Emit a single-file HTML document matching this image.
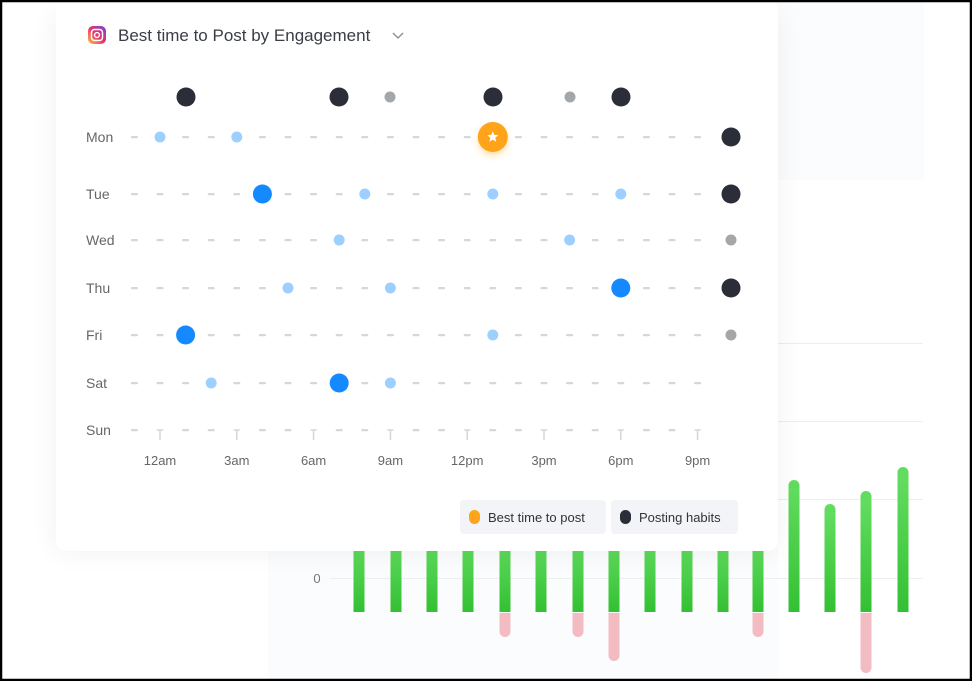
<!DOCTYPE html>
<html><head><meta charset="utf-8"><style>
html,body{margin:0;padding:0;background:#fff;}
body{width:972px;height:681px;overflow:hidden;position:relative;font-family:"Liberation Sans",sans-serif;}
</style></head><body>
<svg id="s" width="972" height="681" viewBox="0 0 972 681" xmlns="http://www.w3.org/2000/svg" style="position:absolute;left:0;top:0">
<defs>
<linearGradient id="g" x1="0" y1="0" x2="0" y2="1"><stop offset="0" stop-color="#63dd60"/><stop offset="1" stop-color="#33c033"/></linearGradient>
<linearGradient id="ig" x1="0" y1="1" x2="1" y2="0"><stop offset="0" stop-color="#fcc143"/><stop offset=".5" stop-color="#e8326b"/><stop offset="1" stop-color="#6b4bd8"/></linearGradient>
<filter id="sh" x="-10%" y="-10%" width="120%" height="130%"><feGaussianBlur stdDeviation="14"/></filter>
<filter id="gl" x="-100%" y="-100%" width="300%" height="300%"><feGaussianBlur stdDeviation="4"/></filter>
</defs>
<rect x="268" y="0" width="510" height="681" fill="#fbfcfd"/>
<rect x="778" y="0" width="146" height="180" fill="#fbfcfd"/>
<g stroke="#eceff2" stroke-width="1">
<line x1="778" y1="343.5" x2="923" y2="343.5"/>
<line x1="778" y1="421.5" x2="923" y2="421.5"/>
<line x1="778" y1="499.5" x2="923" y2="499.5"/>
<line x1="330" y1="578.5" x2="923" y2="578.5"/>
</g>
<text x="317" y="583" font-size="13" fill="#777" text-anchor="middle">0</text>
<g id="bars"></g>
<rect x="56" y="10" width="722" height="541" rx="10" fill="#000" opacity="0.06" filter="url(#sh)"/>
<rect x="56" y="0" width="722" height="551" rx="10" fill="#fff"/>
<rect x="88" y="26" width="18" height="18" rx="5" fill="url(#ig)"/>
<rect x="91.5" y="29.5" width="11" height="11" rx="3" fill="none" stroke="#fff" stroke-width="1.5"/>
<circle cx="97" cy="35" r="2.4" fill="none" stroke="#fff" stroke-width="1.4"/>
<text x="118" y="41" font-size="17" fill="#3a3d45">Best time to Post by Engagement</text>
<path d="M393 33 l5 5 l5 -5" fill="none" stroke="#888" stroke-width="1.3"/>
<g id="grid"></g>
<rect x="460" y="500" width="146" height="34" rx="4" fill="#f2f4f7"/>
<rect x="611" y="500" width="127" height="34" rx="4" fill="#f2f4f7"/>
<rect x="469" y="510" width="11" height="14" rx="5.5" fill="#ffa31a"/>
<text x="488" y="522" font-size="13" fill="#333">Best time to post</text>
<rect x="620" y="510" width="11" height="14" rx="5.5" fill="#2b2e38"/>
<text x="639" y="522" font-size="13" fill="#333">Posting habits</text>
<rect x="1" y="1" width="970" height="679" fill="none" stroke="#000" stroke-width="2.5"/>
</svg>
<script>
const NS="http://www.w3.org/2000/svg";
function el(p,t,a,txt){const e=document.createElementNS(NS,t);for(const k in a)e.setAttribute(k,a[k]);if(txt!==undefined)e.textContent=txt;p.appendChild(e);return e;}
const bars=document.getElementById('bars');
const bx=[359,396,432,468,505,541,578,614,650,687,723,758,794,830,866,903];
const tops={794:480,830:504,866:491,903:467};
const neg={505:637,578:637,614:661,758:637,866:673};
bx.forEach(x=>{
 const t=tops[x]||540;
 el(bars,'rect',{x:x-5.5,y:t,width:11,height:612-t+(tops[x]?0:0),rx:tops[x]?5.5:0,fill:'url(#g)'});
 if(tops[x]) el(bars,'rect',{x:x-5.5,y:t+8,width:11,height:612-t-8,fill:'url(#g)'});
 if(neg[x]){el(bars,'rect',{x:x-5.5,y:613,width:11,height:neg[x]-613,rx:5.5,fill:'#f3bcc3'});el(bars,'rect',{x:x-5.5,y:613,width:11,height:6,fill:'#f3bcc3'});}
});
const g=document.getElementById('grid');
const X=h=>160+25.6*h;
const rows=[['Mon',137],['Tue',194],['Wed',240],['Thu',288],['Fri',335],['Sat',383],['Sun',430]];
const pts={
Mon:{0:'s',3:'s',13:'star'},
Tue:{4:'B',8:'s',13:'s',18:'s'},
Wed:{7:'s',16:'s'},
Thu:{5:'s',9:'s',18:'B'},
Fri:{1:'B',13:'s'},
Sat:{2:'s',7:'B',9:'s'},
Sun:{}
};
const extra={Mon:'D',Tue:'D',Wed:'G',Thu:'D',Fri:'G'};
rows.forEach(([d,y])=>{
 el(g,'text',{x:86,y:y+5,'font-size':14,fill:'#666'},d);
 for(let h=-1;h<=21;h++){
  const x=X(h),p=pts[d][h];
  if(d==='Sun'&&h>=0&&h%3===0){el(g,'path',{d:`M${x-3} ${y} h6 M${x} ${y} v10`,stroke:'#d3d7db','stroke-width':1.5,fill:'none'});continue;}
  if(!p){el(g,'rect',{x:x-3.5,y:y-1,width:7,height:2.2,rx:1,fill:'#d3d8dc'});continue;}
  if(p==='s')el(g,'circle',{cx:x,cy:y,r:5.5,fill:'#9dcfff'});
  if(p==='B')el(g,'circle',{cx:x,cy:y,r:9.5,fill:'#1589ff'});
  if(p==='star'){el(g,'circle',{cx:x,cy:y+4,r:14,fill:'#ffb020',opacity:.45,filter:'url(#gl)'});el(g,'circle',{cx:x,cy:y,r:15,fill:'#ffa31a'});
   let s='';for(let i=0;i<10;i++){const r=i%2?2.6:5.8,a=-Math.PI/2+i*Math.PI/5;s+=(x+r*Math.cos(a)).toFixed(2)+','+(y+r*Math.sin(a)).toFixed(2)+' ';}
   el(g,'polygon',{points:s,fill:'#fff'});}
 }
 const e=extra[d];
 if(e==='D')el(g,'circle',{cx:731,cy:y,r:9.5,fill:'#2b2e38'});
 if(e==='G')el(g,'circle',{cx:731,cy:y,r:5.5,fill:'#a4a7aa'});
});
[[186,'D'],[339,'D'],[390,'G'],[493,'D'],[570,'G'],[621,'D']].forEach(([x,t])=>{
 el(g,'circle',{cx:x,cy:97,r:t==='D'?9.5:5.5,fill:t==='D'?'#2b2e38':'#a4a7aa'});
});
['12am','3am','6am','9am','12pm','3pm','6pm','9pm'].forEach((l,i)=>{
 el(g,'text',{x:X(i*3),y:465,'font-size':13,fill:'#666','text-anchor':'middle'},l);
});
</script>
</body></html>
